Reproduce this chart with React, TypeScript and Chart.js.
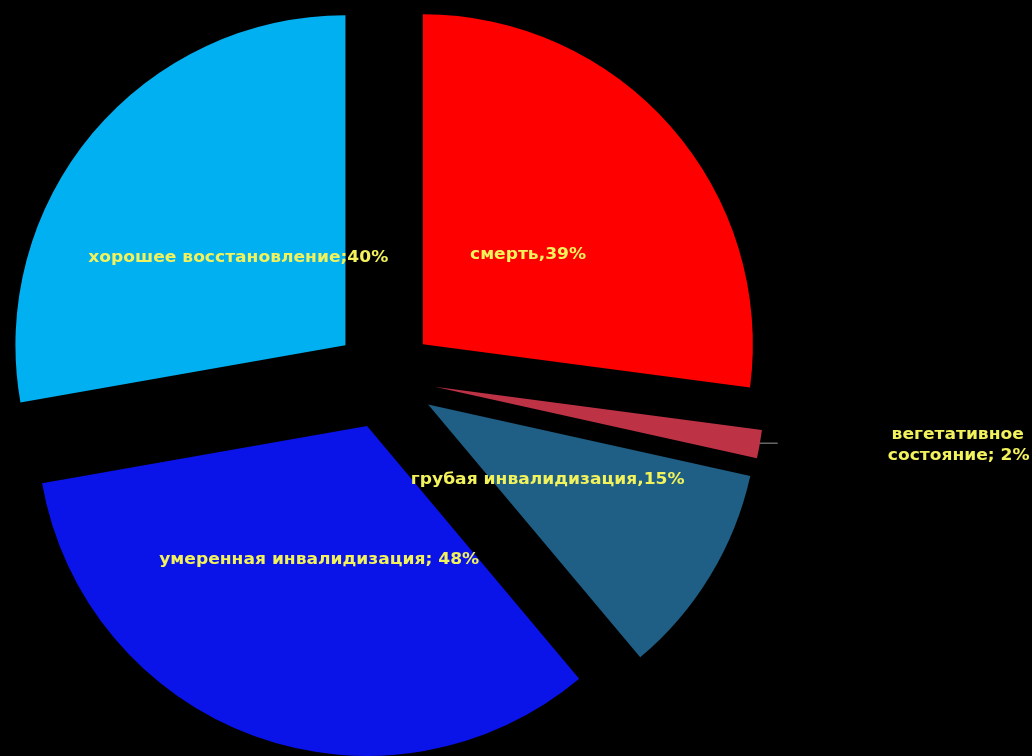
import React, { useEffect, useRef } from "react";
import { Chart, registerables, ArcElement } from "chart.js";

Chart.register(...registerables);

const categories = [
  "смерть",
  "вегетативное состояние",
  "грубая инвалидизация",
  "умеренная инвалидизация",
  "хорошее восстановление",
];
const values = [39, 2, 15, 48, 40];
const labelTexts = [
  ["смерть,39%"],
  ["вегетативное", "состояние; 2%"],
  ["грубая инвалидизация,15%"],
  ["умеренная инвалидизация; 48%"],
  ["хорошее восстановление;40%"],
];
const outsideLabel = [false, true, false, false, false];
const colors = ["#FF0000", "#BE3246", "#1F5F85", "#0A14E8", "#00B0F0"];

const EXPLODE = 51;
const LABEL_COLOR = "#F2F25C";
const LABEL_FONT = 'bold 15px "DejaVu Sans"';
const LABEL_STRETCH = 1.14;

function drawStretched(ctx: CanvasRenderingContext2D, text: string, x: number, y: number) {
  ctx.save();
  ctx.translate(x, y);
  ctx.scale(LABEL_STRETCH, 1);
  ctx.fillText(text, 0, 0);
  ctx.restore();
}

// Explode every slice by a uniform translation, without Chart.js's radius growth.
const explodePlugin = {
  id: "explode",
  beforeDatasetDraw(chart: any, args: any) {
    args.meta.data.forEach((el: any) => {
      if (el.__exploded) return;
      el.__exploded = true;
      el.draw = function (ctx: CanvasRenderingContext2D) {
        const mid = (this.startAngle + this.endAngle) / 2;
        ctx.save();
        ctx.translate(Math.cos(mid) * EXPLODE, Math.sin(mid) * EXPLODE);
        ArcElement.prototype.draw.call(this, ctx);
        ctx.restore();
      };
    });
  },
};

const labelPlugin = {
  id: "sliceLabels",
  afterDatasetsDraw(chart: any) {
    const ctx = chart.ctx;
    const meta = chart.getDatasetMeta(0);
    ctx.save();
    ctx.font = LABEL_FONT;
    ctx.fillStyle = LABEL_COLOR;
    ctx.textAlign = "center";
    ctx.textBaseline = "middle";
    meta.data.forEach((arc: any, i: number) => {
      const { x, y, startAngle, endAngle, outerRadius } = arc.getProps(
        ["x", "y", "startAngle", "endAngle", "outerRadius"],
        true
      );
      const mid = (startAngle + endAngle) / 2;
      const cx = Math.cos(mid);
      const sy = Math.sin(mid);
      const lines = labelTexts[i];
      if (!outsideLabel[i]) {
        const d = EXPLODE + outerRadius * 0.424;
        drawStretched(ctx, lines[0], x + cx * d, y + sy * d + 3);
      } else {
        const d = EXPLODE + outerRadius;
        const sx = x + cx * d;
        const syy = y + sy * d - 1;
        const ex = sx + 18;
        ctx.strokeStyle = "#9A9A9A";
        ctx.lineWidth = 1;
        ctx.beginPath();
        ctx.moveTo(sx, syy);
        ctx.lineTo(ex, syy);
        ctx.stroke();
        drawStretched(ctx, lines[0], ex + 180, syy - 8);
        drawStretched(ctx, lines[1], ex + 181, syy + 13);
      }
    });
    ctx.restore();
  },
};

export default function App() {
  const ref = useRef<HTMLCanvasElement>(null);
  useEffect(() => {
    if (!ref.current) return;
    const chart = new Chart(ref.current, {
      type: "pie",
      data: {
        labels: categories,
        datasets: [
          {
            data: values,
            backgroundColor: colors,
            borderWidth: 0,
            offset: 0,
            hoverOffset: 0,
          },
        ],
      },
      options: {
        responsive: false,
        animation: false,
        radius: 330,
        layout: { padding: { left: 0, right: 263, top: 0, bottom: 0 } },
        plugins: {
          legend: { display: false },
          tooltip: { enabled: false },
        },
        events: [],
      } as any,
      plugins: [explodePlugin, labelPlugin],
    });
    return () => chart.destroy();
  }, []);
  return (
    <div
      style={{
        position: "fixed",
        left: 0,
        top: 0,
        width: 1032,
        height: 756,
        background: "#000",
      }}
    >
      <canvas ref={ref} width={1032} height={756} style={{ display: "block" }} />
    </div>
  );
}
